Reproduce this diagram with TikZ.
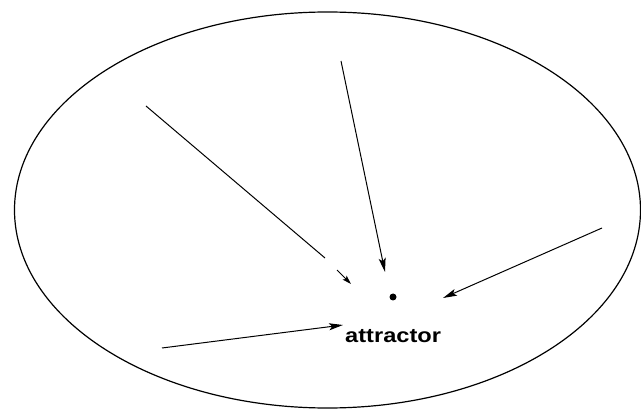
\documentclass[tikz,border=0pt]{standalone}
\usepackage{fontspec}
\setmainfont{Liberation Sans}
\usetikzlibrary{arrows.meta, positioning}

\begin{document}
\begin{tikzpicture}[
    x=1pt, y=-1pt,
    basin/.style={draw, line width=1.2pt},
    flow/.style={-{Stealth[length=14pt, width=7pt, inset=3pt]}, line width=1pt},
    flowshort/.style={-{Stealth[length=9pt, width=5.5pt, inset=2pt]}, line width=1pt},
    fixpt/.style={circle, fill, inner sep=0pt, minimum size=7pt},
    lbl/.style={font=\fontsize{20}{20}\selectfont\bfseries, inner sep=0pt, xscale=1.18},
]
\useasboundingbox (0,0) rectangle (641,409);
\draw[basin] (327.5,210) ellipse [x radius=313, y radius=198];
\node[fixpt] (attr) at (393,297) {};
\node[lbl, anchor=base west] (name) at (345,343) {attractor};
\coordinate (a1) at (146,106);
\coordinate (a1e) at (325,258);
\coordinate (a1h) at (337,270);
\coordinate (a1t) at (351,284);
\coordinate (a2) at (341,61);
\coordinate (a2t) at (385,272);
\coordinate (a3) at (602,228);
\coordinate (a3t) at (443,298);
\coordinate (a4) at (162,348);
\coordinate (a4t) at (343,325);
\draw[line width=1pt] (a1) -- (a1e);
\draw[flowshort] (a1h) -- (a1t);
\draw[flow] (a2) -- (a2t);
\draw[flow] (a3) -- (a3t);
\draw[flow] (a4) -- (a4t);
\end{tikzpicture}
\end{document}
